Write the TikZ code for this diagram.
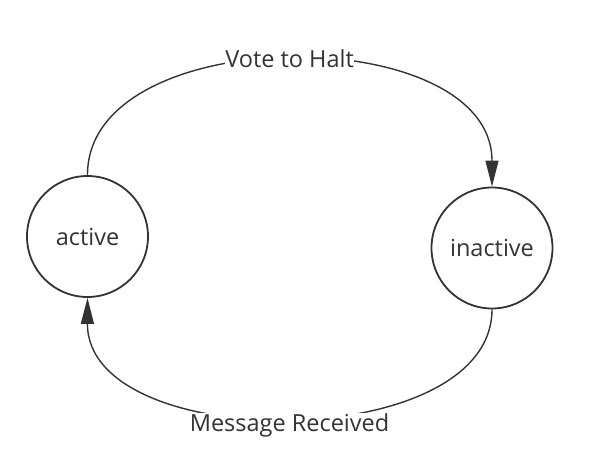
\documentclass[tikz,border=0pt]{standalone}
\usepackage{fontspec}
\setmainfont{Open Sans}
\usetikzlibrary{arrows.meta}
\definecolor{ink}{HTML}{333333}
\begin{document}
\begin{tikzpicture}[x=1pt,y=-1pt,
  state/.style={circle,draw=ink,line width=1.8pt,minimum size=121pt,inner sep=0pt,text=ink,font=\fontsize{23.5}{26}\selectfont},
  edge/.style={draw=ink,line width=1.4pt,-{Triangle[length=26pt,width=13pt]}},
  lbl/.style={fill=white,inner sep=0.5pt,text=ink,font=\fontsize{23.5}{26}\selectfont}]
\useasboundingbox (0,0) rectangle (614,458);
\node[state] (act) at (87.5,236.5) {active};
\node[state] (inact) at (492,248) {inactive};
\draw[edge] (act.north) .. controls (87,20) and (492,20) .. node[lbl,midway,yshift=2pt] (vh) {Vote to Halt} (inact.north);
\draw[edge] (inact.south) .. controls (492,455) and (87,455) .. node[lbl,midway,yshift=-8pt] (mr) {Message Received} (act.south);
\end{tikzpicture}
\end{document}
